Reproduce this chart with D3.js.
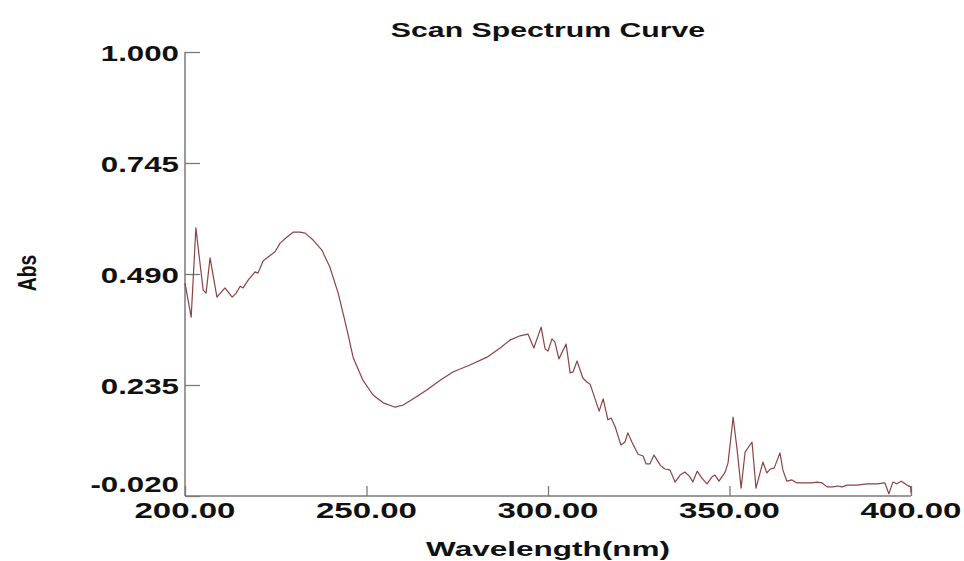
<!DOCTYPE html>
<html>
<head>
<meta charset="utf-8">
<script src="https://cdn.jsdelivr.net/npm/d3@7"></script>
<style>
  html, body { margin: 0; padding: 0; background: #fff; }
  text { font-family: "Liberation Sans", Arial, sans-serif; font-weight: bold; fill: #111; }
</style>
</head>
<body>
<div class="chart"></div>
<script>
// scan spectrum
const wavelength = [
  200.0, 201.7, 203.0, 205.0, 205.8, 206.9, 208.8, 211.0, 213.0, 214.1,
  215.2, 216.0, 217.4, 219.3, 220.1, 221.5, 222.9, 224.8, 226.2, 228.1,
  229.8, 231.7, 233.1, 235.3, 237.7, 239.9, 242.2, 243.8, 244.9, 246.3,
  249.0, 251.8, 254.6, 257.9, 260.1, 262.8, 266.7, 270.3, 273.8, 278.5,
  283.2, 286.8, 289.5, 292.3, 294.5, 296.1, 298.1, 299.2, 300.0, 301.1,
  301.9, 303.0, 305.0, 306.1, 306.9, 308.0, 309.6, 310.7, 311.6, 314.1,
  315.2, 316.5, 317.4, 318.5, 320.1, 321.2, 322.0, 323.1, 324.8, 326.2,
  327.0, 328.1, 329.2, 330.9, 332.2, 333.6, 335.0, 336.4, 337.7, 339.1,
  339.9, 341.1, 342.4, 343.8, 345.2, 346.0, 347.1, 348.8, 349.6, 351.0,
  352.1, 353.2, 354.3, 356.2, 357.3, 359.2, 360.3, 361.2, 362.3, 363.9,
  364.7, 365.8, 367.2, 368.6, 371.4, 372.7, 374.1, 375.5, 376.9, 378.5,
  379.9, 381.0, 382.4, 385.1, 387.9, 390.6, 392.8, 393.9, 395.0, 396.1,
  397.3, 398.9, 399.9, 400.0
];
const absorbance = [
  0.469, 0.391, 0.596, 0.453, 0.446, 0.527, 0.437, 0.458, 0.437, 0.446,
  0.462, 0.458, 0.476, 0.495, 0.492, 0.520, 0.529, 0.541, 0.561, 0.575,
  0.586, 0.586, 0.584, 0.568, 0.545, 0.506, 0.446, 0.391, 0.352, 0.299,
  0.246, 0.212, 0.194, 0.184, 0.189, 0.203, 0.224, 0.246, 0.265, 0.281,
  0.299, 0.320, 0.338, 0.348, 0.352, 0.320, 0.368, 0.318, 0.313, 0.341,
  0.334, 0.295, 0.329, 0.263, 0.265, 0.290, 0.251, 0.242, 0.237, 0.175,
  0.203, 0.155, 0.159, 0.139, 0.097, 0.104, 0.125, 0.104, 0.076, 0.072,
  0.054, 0.054, 0.074, 0.051, 0.042, 0.040, 0.012, 0.028, 0.035, 0.024,
  0.012, 0.037, 0.021, 0.008, 0.024, 0.028, 0.014, 0.035, 0.056, 0.161,
  0.086, -0.002, 0.081, 0.104, -0.002, 0.058, 0.033, 0.042, 0.044, 0.079,
  0.040, 0.014, 0.017, 0.010, 0.010, 0.010, 0.012, 0.010, 0.001, 0.001,
  0.003, 0.001, 0.005, 0.005, 0.008, 0.008, 0.010, -0.015, 0.012, 0.008,
  0.014, 0.005, 0.001, -0.013
];
const xTicks = [200, 250, 300, 350, 400];
const yTicks = [-0.020, 0.235, 0.490, 0.745, 1.000];

const width = 964, height = 561;
const margin = {top: 52, right: 53, bottom: 65, left: 185};
const stretch = 1.45;   // the picture's type is drawn wide

const svg = d3.select(".chart").append("svg")
    .attr("width", width)
    .attr("height", height);

const x = d3.scaleLinear()
    .domain([200, 400])
    .range([margin.left, width - margin.right]);
const y = d3.scaleLinear()
    .domain([-0.020, 1.000])
    .range([height - margin.bottom, margin.top]);

function widen(sel, k) {
    sel.each(function () {
        const w = this.getComputedTextLength();
        d3.select(this)
            .attr("textLength", w * k)
            .attr("lengthAdjust", "spacingAndGlyphs");
    });
}

// axes, ticks pointing inward
const xAxis = svg.append("g")
    .attr("transform", "translate(0," + y.range()[0] + ")")
    .call(d3.axisTop(x).tickValues(xTicks).tickSize(10).tickFormat(""));
const yAxis = svg.append("g")
    .attr("transform", "translate(" + x.range()[0] + ",0)")
    .call(d3.axisRight(y).tickValues(yTicks).tickSize(15).tickFormat(""));

[xAxis, yAxis].forEach(function (a) {
    a.select(".domain").attr("stroke", "#7a7a7a").attr("stroke-width", 1.5)
        .attr("d", a === xAxis
            ? "M" + x.range()[0] + ",0H" + x.range()[1]
            : "M0," + y.range()[1] + "V" + y.range()[0]);
    a.selectAll(".tick line").attr("stroke", "#7a7a7a").attr("stroke-width", 1.3);
});

// tick labels
svg.append("g").selectAll("text")
    .data(xTicks)
    .join("text")
    .attr("x", d => x(d))
    .attr("y", y.range()[0] + 22)
    .attr("text-anchor", "middle")
    .attr("font-size", 22)
    .text(d => d.toFixed(2))
    .call(widen, 1.5);

// the lowest label sits raised above the x labels
svg.append("g").selectAll("text")
    .data(yTicks)
    .join("text")
    .attr("x", x.range()[0] - 6)
    .attr("y", (d, i) => y(d) + (i === 0 ? -4 : 9))
    .attr("text-anchor", "end")
    .attr("font-size", 22)
    .text(d => d.toFixed(3))
    .call(widen, 1.42);

// spectrum
const points = wavelength.map((w, i) => [w, absorbance[i]]);
svg.append("path")
    .datum(points)
    .attr("fill", "none")
    .attr("stroke", "#8c4343")
    .attr("stroke-width", 1.2)
    .attr("stroke-linejoin", "round")
    .attr("d", d3.line().x(d => x(d[0])).y(d => y(d[1])));

// titles
const cx = (x.range()[0] + x.range()[1]) / 2;
svg.append("text")
    .attr("x", cx)
    .attr("y", 37)
    .attr("text-anchor", "middle")
    .attr("font-size", 21)
    .text("Scan Spectrum Curve")
    .call(widen, 1.44);

svg.append("text")
    .attr("x", cx)
    .attr("y", 556)
    .attr("text-anchor", "middle")
    .attr("font-size", 21)
    .text("Wavelength(nm)")
    .call(widen, 1.5);

svg.append("text")
    .attr("transform", "translate(36,273) rotate(-90)")
    .attr("text-anchor", "middle")
    .attr("font-size", 26)
    .text("Abs")
    .call(widen, 0.74);
</script>
</body>
</html>
